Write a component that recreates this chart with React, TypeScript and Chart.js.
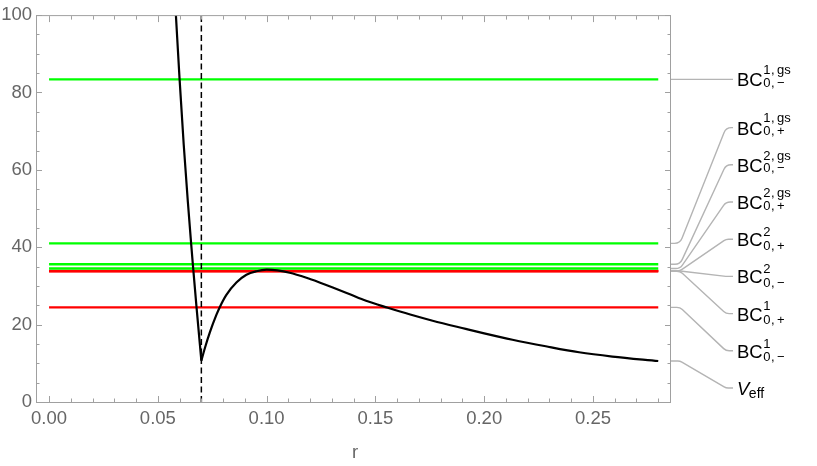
import React, { useEffect, useRef } from 'react';
import { Chart, registerables } from 'chart.js';

Chart.register(...registerables);

// ---- Data ----
// V_eff, left branch (r < cusp)
const R_LEFT = [0.0583, 0.06, 0.0619, 0.0638, 0.0653, 0.0661, 0.0678, 0.0693, 0.07];
const V_LEFT = [100, 83.4, 66.5, 51.7, 41.0, 35.5, 24.4, 15.0, 10.7];
// V_eff, right branch (r >= cusp)
const R_RIGHT = [0.07, 0.0716, 0.0739, 0.0769, 0.0784, 0.0815, 0.0861, 0.0907, 0.0953, 0.1, 0.105, 0.1106, 0.1183, 0.1243, 0.1304, 0.138, 0.1457, 0.1557, 0.166, 0.1763, 0.1915, 0.2, 0.213, 0.2283, 0.2436, 0.2589, 0.28];
const V_RIGHT = [10.7, 13.9, 18.0, 22.5, 24.45, 27.7, 30.9, 32.9, 33.8, 34.2, 34.0, 33.4, 32.1, 30.9, 29.6, 27.9, 26.15, 24.35, 22.6, 21.0, 18.9, 17.75, 16.1, 14.4, 12.85, 11.75, 10.6];

const R_CUSP = 0.07;
const R_RANGE = [0, 0.28];

// Horizontal BC levels
const BC_SUP = ['1,gs', '1,gs', '2,gs', '2,gs', '2', '2', '1', '1'];
const BC_SUB = ['0,\u2212', '0,+', '0,\u2212', '0,+', '0,+', '0,\u2212', '0,+', '0,\u2212'];
const BC_VALUES = [83.4, 41.0, 35.6, 34.5, 33.9, 33.85, 33.8, 24.45];
const BC_COLORS = ['#00ff00', '#00ff00', '#00ff00', '#00ff00', '#ff0000', '#ff0000', '#ff0000', '#ff0000'];

const X_TICKS = [0, 0.05, 0.1, 0.15, 0.2, 0.25];
const Y_TICKS = [0, 20, 40, 60, 80, 100];
const X_MINOR_STEP = 0.01;
const Y_MINOR_STEP = 5;

const FONT = '"Liberation Sans", Arial, Helvetica, sans-serif';
const FRAME_COLOR = '#a0a0a0';
const TICK_LABEL_COLOR = '#666666';

function layoutLabels(anchors: number[], gap: number, lo: number, hi: number): number[] {
  type Cl = { idx: number[]; center: number };
  let cls: Cl[] = anchors.map((a, i) => ({ idx: [i], center: a }));
  const clamp = (c: Cl) => {
    const half = ((c.idx.length - 1) * gap) / 2;
    if (c.center + half > hi) c.center = hi - half;
    if (c.center - half < lo) c.center = lo + half;
  };
  cls.forEach(clamp);
  let changed = true;
  while (changed) {
    changed = false;
    for (let i = 0; i < cls.length - 1; i++) {
      const a = cls[i], b = cls[i + 1];
      const aEnd = a.center + ((a.idx.length - 1) * gap) / 2;
      const bStart = b.center - ((b.idx.length - 1) * gap) / 2;
      if (bStart - aEnd < gap) {
        const idx = a.idx.concat(b.idx);
        const mean = idx.reduce((s, k) => s + anchors[k], 0) / idx.length;
        const m: Cl = { idx, center: mean };
        clamp(m);
        cls.splice(i, 2, m);
        changed = true;
        break;
      }
    }
  }
  const out: number[] = new Array(anchors.length);
  cls.forEach((c) => {
    const start = c.center - ((c.idx.length - 1) * gap) / 2;
    c.idx.forEach((k, j) => (out[k] = start + j * gap));
  });
  return out;
}

// draws "a,b" with a little extra room after the comma (Mathematica style)
function drawScript(ctx: CanvasRenderingContext2D, text: string, x: number, y: number) {
  const parts = text.split(',');
  let cx = x;
  parts.forEach((p, i) => {
    ctx.fillText(p, cx, y);
    cx += ctx.measureText(p).width;
    if (i < parts.length - 1) {
      ctx.fillText(',', cx + 0.5, y);
      cx += ctx.measureText(',').width + 3;
    }
  });
}

function drawRich(ctx: CanvasRenderingContext2D, x: number, yc: number, main: string, sup: string | null, sub: string, italic: boolean) {
  ctx.fillStyle = '#000';
  ctx.textAlign = 'left';
  ctx.textBaseline = 'alphabetic';
  ctx.font = `${italic ? 'italic ' : ''}18.5px ${FONT}`;
  ctx.fillText(main, x, yc + 7);
  const w = ctx.measureText(main).width;
  if (sup === null) {
    ctx.font = `14px ${FONT}`;
    ctx.fillText(sub, x + w - 0.5, yc + 9.5);
    return;
  }
  ctx.font = `13px ${FONT}`;
  const gs = sup.indexOf('g') >= 0;
  drawScript(ctx, sup, x + w + 0.5, yc + (gs ? -5.3 : -3.3));
  drawScript(ctx, sub, x + w + 0.5, yc + (gs ? 7.6 : 10.5));
}

const decorPlugin = {
  id: 'decor',
  afterDraw(chart: any) {
    const { ctx, chartArea } = chart;
    const { left, right, top, bottom } = chartArea;
    const xs = chart.scales.x;
    const ys = chart.scales.y;
    ctx.save();
    // frame
    ctx.strokeStyle = FRAME_COLOR;
    ctx.lineWidth = 1;
    ctx.beginPath();
    ctx.rect(left + 0.5, top + 0.5, right - left, bottom - top);
    ctx.stroke();
    // y ticks (inward, left and right)
    ctx.beginPath();
    for (let v = ys.min; v <= ys.max + 1e-9; v += Y_MINOR_STEP) {
      const py = Math.round(ys.getPixelForValue(v)) + 0.5;
      const major = Y_TICKS.some((t) => Math.abs(t - v) < 1e-9);
      const len = major ? 6 : 3.5;
      ctx.moveTo(left, py);
      ctx.lineTo(left + len, py);
      ctx.moveTo(right + 1, py);
      ctx.lineTo(right + 1 - len, py);
    }
    // x ticks (inward, bottom and top)
    for (let i = 0; i * X_MINOR_STEP <= xs.max + 1e-9; i++) {
      const v = i * X_MINOR_STEP;
      const px = Math.round(xs.getPixelForValue(v)) + 0.5;
      const major = X_TICKS.some((t) => Math.abs(t - v) < 1e-9);
      const len = major ? 6 : 3.5;
      ctx.moveTo(px, bottom);
      ctx.lineTo(px, bottom - len);
      ctx.moveTo(px, top + 1);
      ctx.lineTo(px, top + 1 + len);
    }
    ctx.stroke();

    // axis title
    ctx.fillStyle = TICK_LABEL_COLOR;
    ctx.font = `18.5px ${FONT}`;
    ctx.textAlign = 'center';
    ctx.textBaseline = 'alphabetic';
    ctx.fillText('r', (left + right) / 2 + 2, 458);

    // callouts
    const anchorsVal = BC_VALUES.concat([V_RIGHT[V_RIGHT.length - 1]]);
    const anchors = anchorsVal.map((v) => ys.getPixelForValue(v));
    const labelsY = layoutLabels(anchors, 37.2, top + 20, bottom - 14);
    const x0 = right + 1, x1 = right + 10, x2 = right + 56, x3 = right + 63;
    ctx.strokeStyle = '#b4b4b4';
    ctx.lineWidth = 1.4;
    anchors.forEach((ya, i) => {
      const yl = labelsY[i];
      ctx.beginPath();
      ctx.moveTo(x0, ya);
      if (Math.abs(ya - yl) < 0.5) {
        ctx.lineTo(x3, yl);
      } else {
        const r = Math.min(8, Math.abs(ya - yl) / 2);
        ctx.arcTo(x1, ya, x2, yl, r);
        ctx.arcTo(x2, yl, x3, yl, r);
        ctx.lineTo(x3, yl);
      }
      ctx.stroke();
    });
    // label texts
    const lx = right + 67;
    BC_VALUES.forEach((_, i) => drawRich(ctx, lx, labelsY[i], 'BC', BC_SUP[i], BC_SUB[i], false));
    drawRich(ctx, lx, labelsY[BC_VALUES.length], 'V', null, 'eff', true);
    ctx.restore();
  },
};

export default function App() {
  const ref = useRef<HTMLCanvasElement | null>(null);
  useEffect(() => {
    if (!ref.current) return;
    const datasets: any[] = [
      {
        label: 'Veff left',
        data: R_LEFT.map((x, i) => ({ x, y: V_LEFT[i] })),
        borderColor: '#000',
        borderWidth: 2.2,
        pointRadius: 0,
        cubicInterpolationMode: 'monotone',
      },
      {
        label: 'Veff right',
        data: R_RIGHT.map((x, i) => ({ x, y: V_RIGHT[i] })),
        borderColor: '#000',
        borderWidth: 2.2,
        pointRadius: 0,
        cubicInterpolationMode: 'monotone',
      },
      {
        label: 'cusp',
        data: [{ x: R_CUSP, y: 0 }, { x: R_CUSP, y: 100 }],
        borderColor: '#000',
        borderWidth: 1.5,
        borderDash: [6, 3.5],
        pointRadius: 0,
      },
      ...BC_VALUES.map((v, i) => ({
        label: 'BC' + BC_SUP[i] + BC_SUB[i],
        data: [{ x: R_RANGE[0], y: v }, { x: R_RANGE[1], y: v }],
        borderColor: BC_COLORS[i],
        borderWidth: 2.3,
        pointRadius: 0,
      })),
    ];
    const chart = new Chart(ref.current, {
      type: 'line',
      data: { datasets },
      options: {
        animation: false,
        responsive: false,
        devicePixelRatio: 1,
        layout: { padding: { left: 0, right: 147, top: 11, bottom: 0 } },
        plugins: { legend: { display: false }, tooltip: { enabled: false } },
        scales: {
          x: {
            type: 'linear',
            min: -0.006,
            max: 0.2854,
            grid: { display: false, drawTicks: false },
            border: { display: false },
            afterFit: (s: any) => { s.height = 64; },
            afterBuildTicks: (s: any) => { s.ticks = X_TICKS.map((v) => ({ value: v })); },
            ticks: {
              padding: 6,
              maxRotation: 0,
              autoSkip: false,
              color: TICK_LABEL_COLOR,
              font: { family: FONT, size: 18.5 },
              callback: (v: any) => Number(v).toFixed(2),
            },
          },
          y: {
            type: 'linear',
            min: 0,
            max: 100,
            grid: { display: false, drawTicks: false },
            border: { display: false },
            afterFit: (s: any) => { s.width = 36; },
            afterBuildTicks: (s: any) => { s.ticks = Y_TICKS.map((v) => ({ value: v })); },
            ticks: {
              padding: 4,
              autoSkip: false,
              color: TICK_LABEL_COLOR,
              font: { family: FONT, size: 18.5 },
              callback: (v: any) => String(v),
            },
          },
        },
      },
      plugins: [decorPlugin],
    } as any);
    return () => chart.destroy();
  }, []);
  return (
    <div style={{ position: 'fixed', left: 0, top: 0, width: 817, height: 466, background: '#fff' }}>
      <canvas ref={ref} width={817} height={466} style={{ display: 'block', width: 817, height: 466 }} />
    </div>
  );
}
